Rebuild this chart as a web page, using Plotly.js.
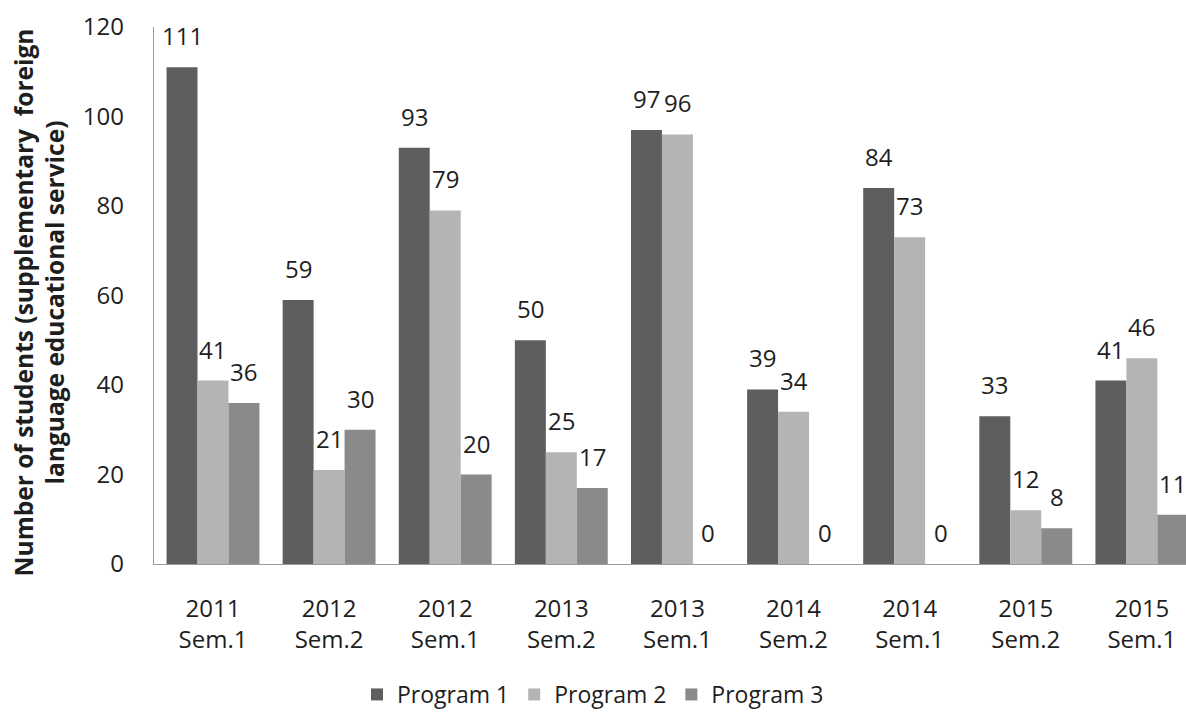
<!DOCTYPE html>
<html>
<head>
<meta charset="utf-8">
<script src="https://cdn.plot.ly/plotly-3.0.1.min.js"></script>
<style>html,body{margin:0;padding:0;background:#fff;}#chart{width:1186px;height:713px;}</style>
</head>
<body>
<div id="chart"></div>
<script>
const categories = ["2011<br>Sem.1","2012<br>Sem.2","2012<br>Sem.1","2013<br>Sem.2","2013<br>Sem.1","2014<br>Sem.2","2014<br>Sem.1","2015<br>Sem.2","2015<br>Sem.1"];
const seriesNames = ["Program 1","Program 2","Program 3"];
const program1 = [111, 59, 93, 50, 97, 39, 84, 33, 41];
const program2 = [41, 21, 79, 25, 96, 34, 73, 12, 46];
const program3 = [36, 30, 20, 17, 0, 0, 0, 8, 11];
const yTicks = [0, 20, 40, 60, 80, 100, 120];
const yTitle = "Number of students (supplementary&nbsp; foreign<br>language educational service)";

const colors = ["#5e5e5e", "#b4b4b4", "#8a8a8a"];
const seriesValues = [program1, program2, program3];
const W = 1186, H = 713;
const margin = {l: 154, r: 0, t: 27, b: 149, autoexpand: false};
const xRange = [-0.508, 8.38];
const bargap = 0.2;
const font = "'Open Sans', sans-serif";
const textColor = "#1e1e1e";

const traces = seriesValues.map((vals, i) => ({
  type: "bar",
  name: seriesNames[i],
  x: categories,
  y: vals,
  marker: {color: colors[i], line: {width: 0}},
  hoverinfo: "x+y+name"
}));

const plotW = W - margin.l - margin.r;
const pxPerCat = plotW / (xRange[1] - xRange[0]);
const barPx = pxPerCat * (1 - bargap) / 3;

const annotations = [];
seriesValues.forEach((vals, s) => {
  vals.forEach((v, i) => {
    annotations.push({
      x: categories[i], y: v, xref: "x", yref: "y",
      text: String(v), showarrow: false,
      xanchor: "center", yanchor: "bottom",
      xshift: (s - 1) * barPx, yshift: 13,
      font: {family: font, size: 24, color: textColor}
    });
  });
});
annotations.push({
  xref: "paper", yref: "paper", x: -0.111, y: 0.488,
  xanchor: "center", yanchor: "middle",
  text: yTitle, showarrow: false, textangle: -90,
  font: {family: font, size: 24.5, color: textColor, weight: "bold"}
});

const layout = {
  width: W, height: H,
  margin: margin,
  paper_bgcolor: "#fff", plot_bgcolor: "#fff",
  barmode: "group", bargap: bargap, bargroupgap: 0,
  showlegend: true,
  legend: {
    orientation: "h", x: 0.4254, xanchor: "center",
    y: -0.243, yanchor: "middle",
    font: {family: font, size: 23, color: textColor},
    itemclick: false, itemdoubleclick: false
  },
  xaxis: {
    type: "category", range: xRange, showgrid: false, zeroline: false,
    showline: true, linecolor: "#9a9a9a", linewidth: 1.3,
    ticks: "", ticklabelstandoff: 23, tickangle: 0,
    tickfont: {family: font, size: 24, color: textColor}
  },
  yaxis: {
    range: [0, 120], tickvals: yTicks, ticktext: yTicks.map(String),
    showgrid: false, zeroline: false,
    showline: true, linecolor: "#9a9a9a", linewidth: 1.3,
    ticks: "", ticklabelstandoff: 24,
    tickfont: {family: font, size: 24, color: textColor}
  },
  annotations: annotations
};

Plotly.newPlot("chart", traces, layout, {displayModeBar: false, staticPlot: true});
</script>
</body>
</html>
